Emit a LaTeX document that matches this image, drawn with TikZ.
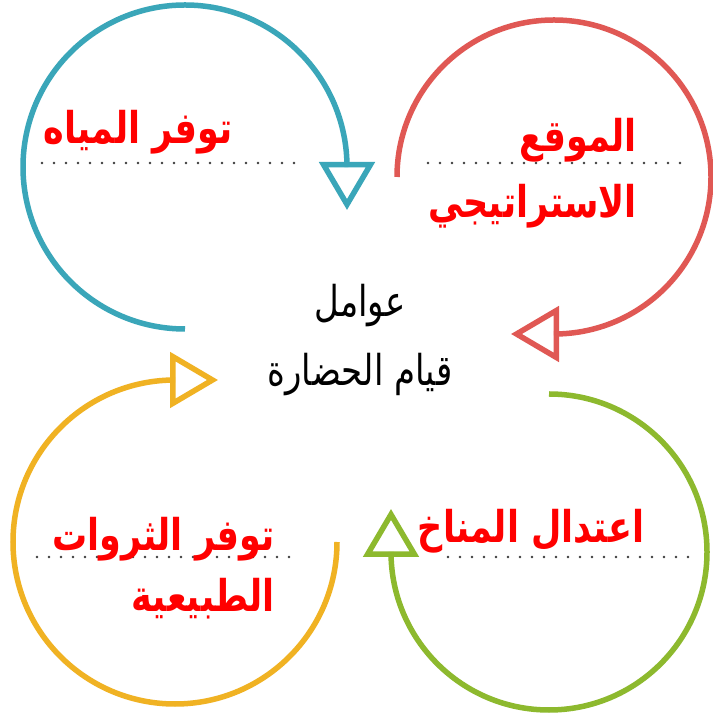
\documentclass[tikz,border=0pt]{standalone}
\usepackage{fontspec}
\usetikzlibrary{arrows.meta}
\TeXXeTstate=1
\newfontfamily\arabicfont[Script=Arabic]{DejaVu Sans}
\definecolor{cteal}{RGB}{58,166,185}
\definecolor{cred}{RGB}{224,88,84}
\definecolor{cyellow}{RGB}{240,178,35}
\definecolor{cgreen}{RGB}{141,185,46}
\definecolor{cdots}{RGB}{60,60,60}
\definecolor{ctext}{RGB}{255,0,0}
\tikzset{
  cyclearc/.style={line width=5.5pt, -{Triangle[open, length=48pt, width=55pt]}},
  dotline/.style={cdots, line width=2.6pt, line cap=round, dash pattern=on 0pt off 12pt},
  redlabel/.style={text=ctext, font=\arabicfont\bfseries\fontsize{35}{40}\selectfont, inner sep=0pt},
  centerlabel/.style={text=black, font=\arabicfont\fontsize{34}{40}\selectfont, inner sep=0pt}
}
\newcommand{\tallR}[1]{\scalebox{1}[1.25]{\beginR #1\endR}}
\begin{document}
\begin{tikzpicture}[x=1pt,y=1pt]
\useasboundingbox[fill=white] (0,0) rectangle (712,717);
% dotted lines
\coordinate (t1) at (42,554); \coordinate (t2) at (298,554);
\coordinate (r1) at (428,554); \coordinate (r2) at (685,554);
\coordinate (y1) at (37,160); \coordinate (y2) at (293,160);
\coordinate (g1) at (448,160); \coordinate (g2) at (692,160);
\draw[dotline] (t1) -- (t2);
\draw[dotline] (r1) -- (r2);
\draw[dotline] (y1) -- (y2);
\draw[dotline] (g1) -- (g2);
% arcs
\coordinate (ts) at (185,388);
\draw[cyclearc, cteal] (ts) arc[start angle=270, end angle=0, radius=162] -- ++(0,-43);
\coordinate (rs) at (397,540);
\draw[cyclearc, cred] (rs) arc[start angle=180, end angle=-90, radius=157] -- ++(-43,0);
\coordinate (ys) at (337,175);
\draw[cyclearc, cyellow] (ys) arc[start angle=0, end angle=-270, radius=162] -- ++(43,0);
\coordinate (gs) at (549,323);
\draw[cyclearc, cgreen] (gs) arc[start angle=90, end angle=-180, radius=158] -- ++(0,43);
% labels
\node[redlabel] (water) at (138,585) {\tallR{توفر المياه}};
\node[redlabel, anchor=east] (loc1) at (637,577) {\tallR{الموقع}};
\node[redlabel, anchor=east] (loc2) at (637,511) {\tallR{الاستراتيجي}};
\node[redlabel, anchor=east] (res1) at (275,178) {\tallR{توفر الثروات}};
\node[redlabel, anchor=east] (res2) at (275,118) {\tallR{الطبيعية}};
\node[redlabel] (clim) at (531,186) {\tallR{اعتدال المناخ}};
\node[centerlabel] (c1) at (360,411) {\tallR{عوامل}};
\node[centerlabel] (c2) at (360,342) {\tallR{قيام الحضارة}};
\end{tikzpicture}
\end{document}
